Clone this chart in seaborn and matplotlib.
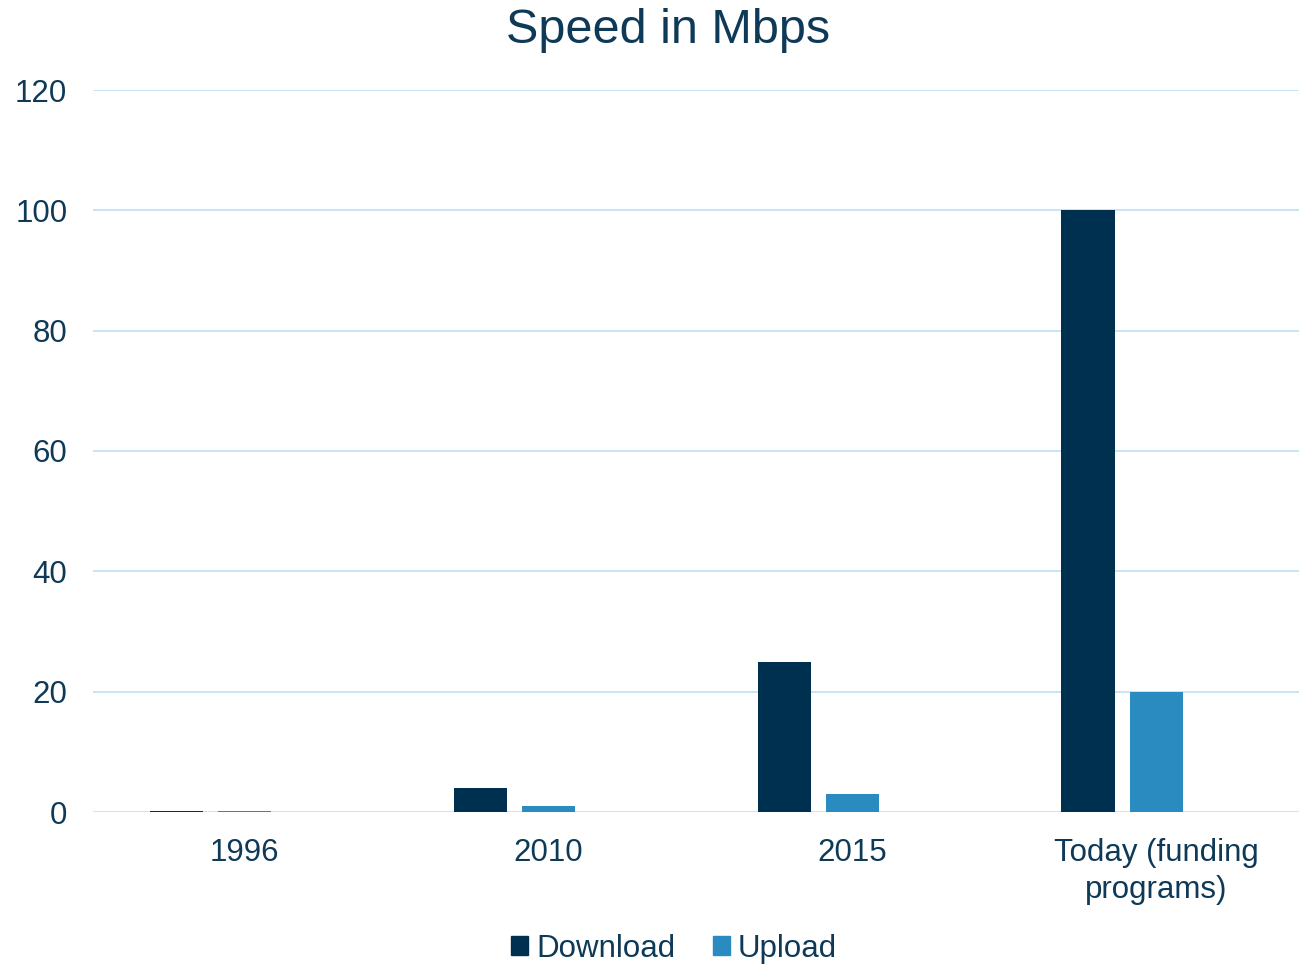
import numpy as np
import pandas as pd
import matplotlib.pyplot as plt
import seaborn as sns
from matplotlib.patches import Patch

sns.set_theme(style="white")
plt.rcParams['font.family'] = ['Liberation Sans', 'DejaVu Sans']

years = ['1996', '2010', '2015', 'Today (funding\nprograms)']
download = [0.2, 4, 25, 100]
upload = [0.2, 1, 3, 20]
series = ['Download', 'Upload']

txt = '#0e3a58'
grid = '#c0e4f6'
colors = ['#00304f', '#2a8bc0', '#ffffff']

df = pd.DataFrame({
    'Year': years * 2,
    'Speed': download + upload,
    'Series': ['Download'] * 4 + ['Upload'] * 4,
})

fig = plt.figure(figsize=(12.99, 9.64), dpi=100)
ax = fig.add_axes([93 / 1299, 1 - 812 / 964, (1308 - 93) / 1299, (812 - 90) / 964])

# third (empty) level keeps the bars shifted left like the original
sns.barplot(data=df, x='Year', y='Speed', hue='Series', order=years,
            hue_order=series + ['_blank'], palette=colors, width=0.673, gap=0.22,
            saturation=1, legend=False, ax=ax, linewidth=0)

ax.set_ylim(0, 120)
ax.set_xlim(-0.5, 3.5)
ax.set_yticks(range(0, 121, 20))
ax.yaxis.grid(True, color=grid, linewidth=1.3)
ax.set_axisbelow(True)
for s in ax.spines.values():
    s.set_visible(False)
ax.set_xlabel('')
ax.set_ylabel('')
ax.tick_params(axis='both', colors=txt, labelsize=22.5, length=0)
ax.tick_params(axis='x', pad=19)
ax.tick_params(axis='y', pad=18.5)
for lab in ax.get_xticklabels():
    lab.set_linespacing(1.3)

fig.text(0.514, 0.968, 'Speed in Mbps', ha='center', va='center', fontsize=35, color=txt)

handles = [Patch(color=colors[0]), Patch(color=colors[1])]
fig.legend(handles, series, loc='center', bbox_to_anchor=(0.519, 0.016), ncol=2,
           frameon=False, fontsize=22.5, labelcolor=txt, handlelength=0.55, handleheight=0.55,
           handletextpad=0.25, columnspacing=1.2)

fig.savefig('out.png', dpi=100)
